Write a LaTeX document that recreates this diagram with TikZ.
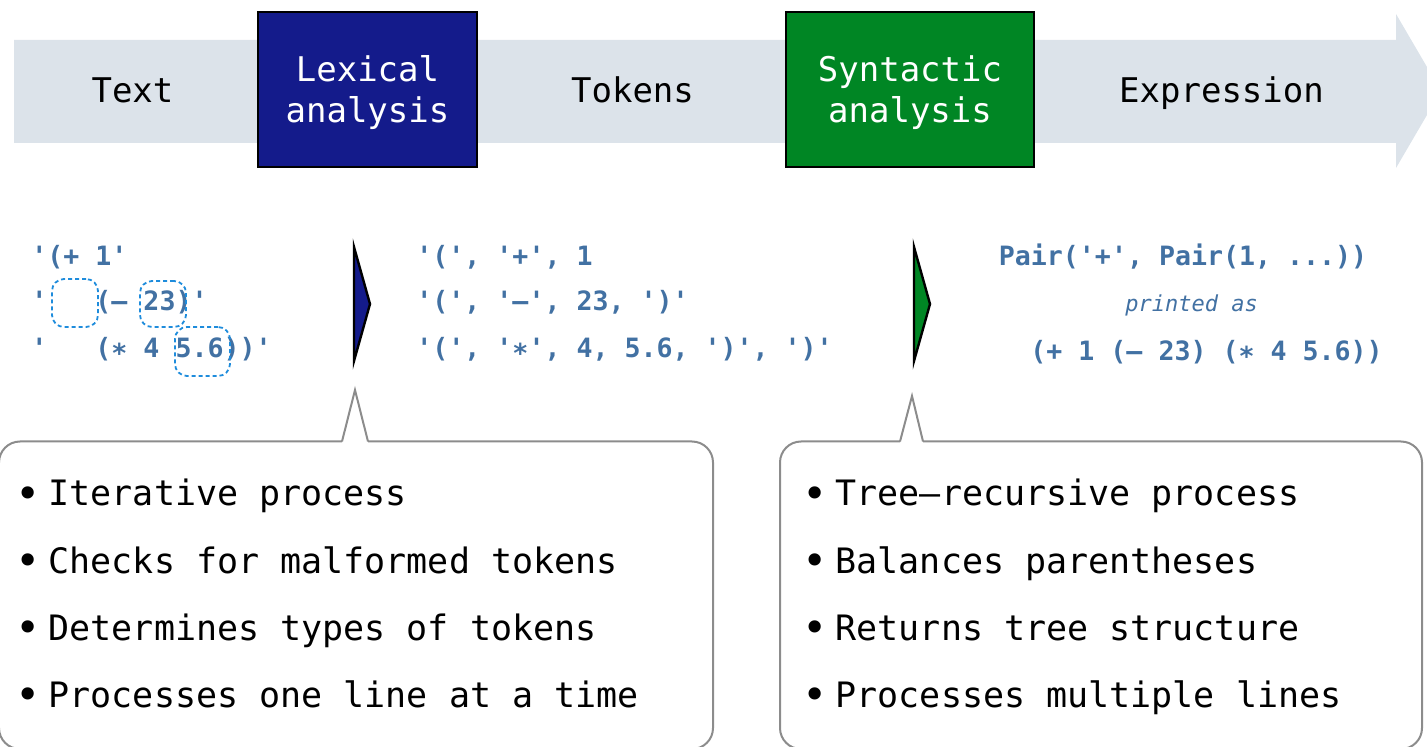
\documentclass[tikz,border=0pt]{standalone}
\usepackage{fontspec}
\setmonofont{DejaVu Sans Mono}
\definecolor{lexblue}{RGB}{20,27,139}
\definecolor{synxgreen}{RGB}{0,134,36}
\definecolor{flowgray}{RGB}{220,227,234}
\definecolor{codeblue}{RGB}{66,113,163}
\definecolor{gapblue}{RGB}{30,140,220}
\definecolor{notegray}{RGB}{140,140,140}
\newcommand{\bul}{\raisebox{-1.2pt}{\scalebox{1.2}{\textbullet}}\kern3.75pt}
\newcommand{\toprule}{\rule{0pt}{16pt}}
\tikzset{
    stage/.style={draw=black, line width=1pt, text=white, align=center, inner sep=0pt,
        minimum height=77.5pt, font=\ttfamily\fontsize{17}{20.4}\selectfont},
    flowlabel/.style={anchor=base, inner sep=0pt, font=\ttfamily\fontsize{17}{20.4}\selectfont},
    code/.style={anchor=base west, inner sep=0pt, text=codeblue,
        font=\ttfamily\bfseries\fontsize{13.3}{16}\selectfont},
    gapmark/.style={draw=gapblue, line width=0.9pt, dash pattern=on 2pt off 1.5pt,
        rounded corners=6pt, inner sep=0pt},
    noteitem/.style={anchor=base west, inner sep=0pt, font=\ttfamily\fontsize{17.5}{20}\selectfont},
    notebox/.style={draw=notegray, line width=1pt}
}
\begin{document}
\begin{tikzpicture}[x=0.5pt,y=-0.5pt]

        \clip (0,0) rectangle (1427,747);

        % 背景大箭头
        \fill[flowgray] (14,40) -- (1396,40) -- (1396,14) -- (1441,91) -- (1396,168) -- (1396,143) -- (14,143) -- cycle;

        % 两个处理阶段
        \node[stage, fill=lexblue, minimum width=109.5pt] (lexer) at (367.5,89.5) {\toprule Lexical\\analysis};
        \node[stage, fill=synxgreen, minimum width=124pt] (parser) at (910,89.5) {\toprule Syntactic\\analysis};

        % 箭头上的标签
        \node[flowlabel] (rawtext) at (132.5,102.5) {Text};
        \node[flowlabel] (tokens) at (632.5,102.5) {Tokens};
        \node[flowlabel] (expression) at (1221.5,102.5) {Expression};

        % 左边: 源代码行
        \node[code] (src1) at (31,266) {'(+ 1'};
        \node[code] (src2) at (31,311) {'\ \ \ (– 23)'};
        \node[code] (src3) at (31,358) {'\ \ \ (∗ 4 5.6))'};

        % 虚线圈出空白和数字
        \node[gapmark, minimum width=23pt, minimum height=24pt] (blank) at (75,303) {};
        \node[gapmark, minimum width=23pt, minimum height=23pt] (num) at (163,304) {};
        \node[gapmark, minimum width=27.5pt, minimum height=24.5pt] (dec) at (202.5,351.5) {};

        % 中间: 词法单元
        \node[code] (tok1) at (416,266) {'(', '+', 1};
        \node[code] (tok2) at (416,311) {'(', '–', 23, ')'};
        \node[code] (tok3) at (416,358) {'(', '∗', 4, 5.6, ')', ')'};

        % 右边: 表达式
        \node[code] (pair) at (998.5,266) {Pair('+', Pair(1, ...))};
        \node[code, font=\ttfamily\itshape\fontsize{11}{13}\selectfont] (printed) at (1125,312) {printed as};
        \node[code] (expr) at (1030,361) {(+ 1 (– 23) (∗ 4 5.6))};

        % 三角形指示
        \filldraw[fill=lexblue, line width=1.2pt] (354,247) -- (370,304) -- (354,361) -- cycle; % 词法
        \filldraw[fill=synxgreen, line width=1.2pt] (914,247) -- (930,304) -- (914,361) -- cycle; % 语法

        % 左侧说明框
        \draw[notebox, rounded corners=10.5pt] (342,441.5) -- (-1,441.5) -- (-1,749) -- (713,749) -- (713,441.5) -- (368,441.5);
        \draw[notebox] (342,441.5) -- (355,390) -- (368,441.5);

        % 右侧说明框
        \draw[notebox, rounded corners=10.5pt] (900,441.5) -- (780,441.5) -- (780,749) -- (1422,749) -- (1422,441.5) -- (923,441.5);
        \draw[notebox] (900,441.5) -- (912,396) -- (923,441.5);

        % 要点列表
        \foreach \note [count=\i] in {Iterative process, Checks for malformed tokens, Determines types of tokens, Processes one line at a time}
            \node[noteitem] (lexnote\i) at (15.5,{439+67*\i}) {\bul\note};
        \foreach \note [count=\i] in {Tree–recursive process, Balances parentheses, Returns tree structure, Processes multiple lines}
            \node[noteitem] (synnote\i) at (802.5,{439+67*\i}) {\bul\note};

\end{tikzpicture}
\end{document}
